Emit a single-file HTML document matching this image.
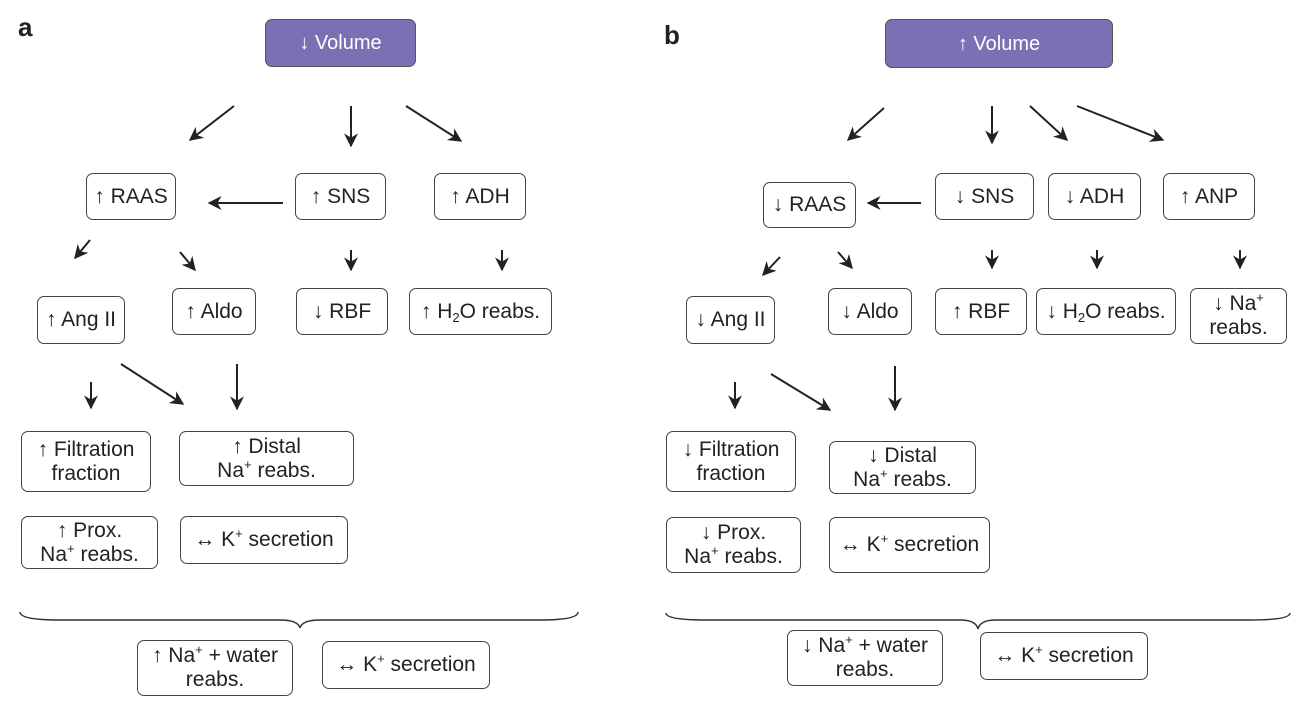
<!DOCTYPE html>
<html><head><meta charset="utf-8"><style>
body{margin:0;width:1311px;height:708px;background:#fff;position:relative;overflow:hidden;font-family:"Liberation Sans Narrow","Liberation Sans",sans-serif;color:#222}
.b{position:absolute;box-sizing:border-box;border:1.5px solid #444;border-radius:7px;display:flex;align-items:center;justify-content:center;text-align:center;font-size:21px;line-height:24px;background:#fff;white-space:nowrap}
.b>span{display:block}
.v{background:#7b70b3;color:#fff;border-color:#555;font-family:"Liberation Sans",sans-serif;font-size:20px}
sup{font-size:13px;line-height:0;vertical-align:8px}
sub{font-size:13px;line-height:0;vertical-align:-4px}
.lab{position:absolute;font-family:"Liberation Sans",sans-serif;font-weight:bold;font-size:26px}
svg{position:absolute;left:0;top:0}
</style></head><body>
<div class="lab" style="left:18px;top:12px">a</div>
<div class="lab" style="left:664px;top:20px">b</div>
<svg width="1311" height="708">
<defs><marker id="m" viewBox="0 0 10 10" refX="9" refY="5" markerWidth="7" markerHeight="7" orient="auto"><path d="M0,0 L10,5 L0,10 L3,5 z" fill="#222"/></marker></defs>
<g stroke="#222" stroke-width="2" fill="none" marker-end="url(#m)">
<line x1="234" y1="106" x2="190" y2="140"/><line x1="351" y1="106" x2="351" y2="146"/><line x1="406" y1="106" x2="461" y2="141"/>
<line x1="283" y1="203" x2="209" y2="203"/>
<line x1="90" y1="240" x2="75" y2="258"/><line x1="180" y1="252" x2="195" y2="270"/><line x1="351" y1="250" x2="351" y2="270"/><line x1="502" y1="250" x2="502" y2="270"/>
<line x1="91" y1="382" x2="91" y2="408"/><line x1="121" y1="364" x2="183" y2="404"/><line x1="237" y1="364" x2="237" y2="409"/>
<line x1="884" y1="108" x2="848" y2="140"/><line x1="992" y1="106" x2="992" y2="143"/><line x1="1030" y1="106" x2="1067" y2="140"/><line x1="1077" y1="106" x2="1163" y2="140"/>
<line x1="921" y1="203" x2="868" y2="203"/>
<line x1="780" y1="257" x2="763" y2="275"/><line x1="838" y1="252" x2="852" y2="268"/><line x1="992" y1="250" x2="992" y2="268"/><line x1="1097" y1="250" x2="1097" y2="268"/><line x1="1240" y1="250" x2="1240" y2="268"/>
<line x1="735" y1="382" x2="735" y2="408"/><line x1="771" y1="374" x2="830" y2="410"/><line x1="895" y1="366" x2="895" y2="410"/>
</g>
<g stroke="#333" stroke-width="1.5" fill="none">
<path d="M20,612 Q20,620 60,620 L280,620 Q298,620 300,628 Q302,620 320,620 L540,620 Q578,620 578,612"/>
<path d="M666,613 Q666,620 706,620 L960,620 Q976,620 978,629 Q980,620 996,620 L1250,620 Q1290,620 1290,613"/>
</g>
</svg>
<div class="b v" style="left:265px;top:19px;width:151px;height:48px"><span>↓ Volume</span></div>
<div class="b" style="left:86px;top:173px;width:90px;height:47px"><span>↑ RAAS</span></div>
<div class="b" style="left:295px;top:173px;width:91px;height:47px"><span>↑ SNS</span></div>
<div class="b" style="left:434px;top:173px;width:92px;height:47px"><span>↑ ADH</span></div>
<div class="b" style="left:37px;top:296px;width:88px;height:48px"><span>↑ Ang II</span></div>
<div class="b" style="left:172px;top:288px;width:84px;height:47px"><span>↑ Aldo</span></div>
<div class="b" style="left:296px;top:288px;width:92px;height:47px"><span>↓ RBF</span></div>
<div class="b" style="left:409px;top:288px;width:143px;height:47px"><span>↑ H<sub>2</sub>O reabs.</span></div>
<div class="b" style="left:21px;top:431px;width:130px;height:61px"><span>↑ Filtration<br>fraction</span></div>
<div class="b" style="left:179px;top:431px;width:175px;height:55px"><span>↑ Distal<br>Na<sup>+</sup> reabs.</span></div>
<div class="b" style="left:21px;top:516px;width:137px;height:53px"><span>↑ Prox.<br>Na<sup>+</sup> reabs.</span></div>
<div class="b" style="left:180px;top:516px;width:168px;height:48px"><span>↔ K<sup>+</sup> secretion</span></div>
<div class="b" style="left:137px;top:640px;width:156px;height:56px"><span>↑ Na<sup>+</sup> + water<br>reabs.</span></div>
<div class="b" style="left:322px;top:641px;width:168px;height:48px"><span>↔ K<sup>+</sup> secretion</span></div>

<div class="b v" style="left:885px;top:19px;width:228px;height:49px"><span>↑ Volume</span></div>
<div class="b" style="left:763px;top:182px;width:93px;height:46px"><span>↓ RAAS</span></div>
<div class="b" style="left:935px;top:173px;width:99px;height:47px"><span>↓ SNS</span></div>
<div class="b" style="left:1048px;top:173px;width:93px;height:47px"><span>↓ ADH</span></div>
<div class="b" style="left:1163px;top:173px;width:92px;height:47px"><span>↑ ANP</span></div>
<div class="b" style="left:686px;top:296px;width:89px;height:48px"><span>↓ Ang II</span></div>
<div class="b" style="left:828px;top:288px;width:84px;height:47px"><span>↓ Aldo</span></div>
<div class="b" style="left:935px;top:288px;width:92px;height:47px"><span>↑ RBF</span></div>
<div class="b" style="left:1036px;top:288px;width:140px;height:47px"><span>↓ H<sub>2</sub>O reabs.</span></div>
<div class="b" style="left:1190px;top:288px;width:97px;height:56px"><span>↓ Na<sup>+</sup><br>reabs.</span></div>
<div class="b" style="left:666px;top:431px;width:130px;height:61px"><span>↓ Filtration<br>fraction</span></div>
<div class="b" style="left:829px;top:441px;width:147px;height:53px"><span>↓ Distal<br>Na<sup>+</sup> reabs.</span></div>
<div class="b" style="left:666px;top:517px;width:135px;height:56px"><span>↓ Prox.<br>Na<sup>+</sup> reabs.</span></div>
<div class="b" style="left:829px;top:517px;width:161px;height:56px"><span>↔ K<sup>+</sup> secretion</span></div>
<div class="b" style="left:787px;top:630px;width:156px;height:56px"><span>↓ Na<sup>+</sup> + water<br>reabs.</span></div>
<div class="b" style="left:980px;top:632px;width:168px;height:48px"><span>↔ K<sup>+</sup> secretion</span></div>
</body></html>
